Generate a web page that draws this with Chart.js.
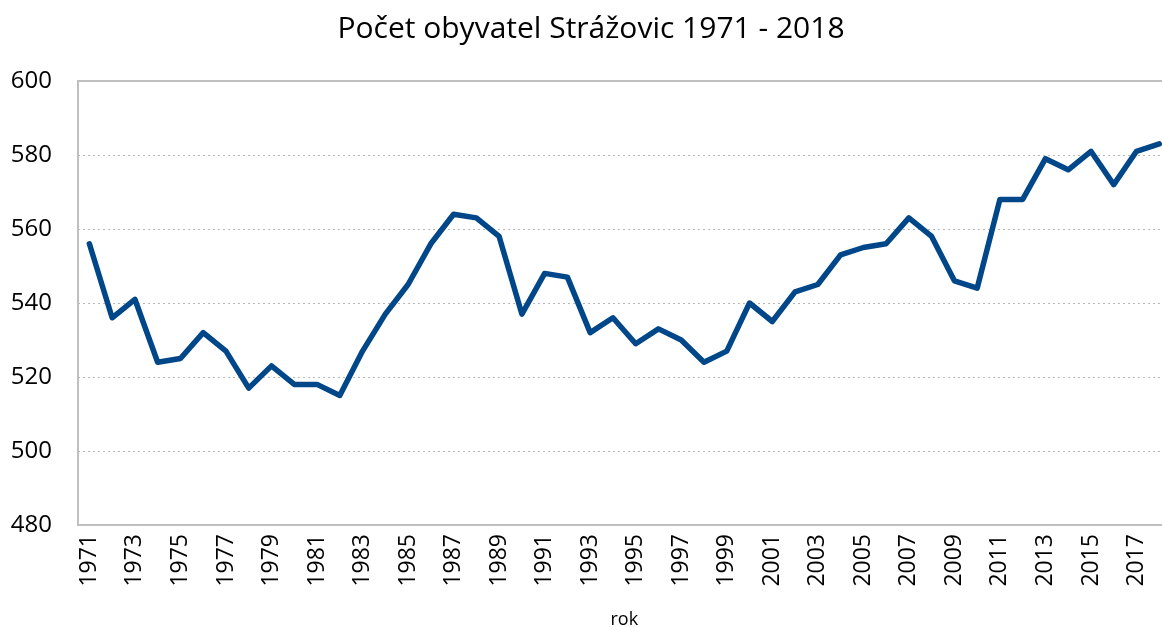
<!DOCTYPE html>
<html>
<head>
<meta charset="utf-8">
<script src="https://cdn.jsdelivr.net/npm/chart.js@4"></script>
<style>
    html, body { margin: 0; padding: 0; overflow: hidden; background: #fff; }
    #wrap { width: 1196px; height: 627px; }
</style>
</head>
<body>
<div id="wrap"><canvas id="popChart"></canvas></div>
<script>
// years 1971 - 2018
var years = [];
for (var y = 1971; y <= 2018; y++) years.push(String(y));

// population per year
var population = [
    556, 536, 541, 524, 525, 532, 527, 517, 523, 518,
    518, 515, 527, 537, 545, 556, 564, 563, 558, 537,
    548, 547, 532, 536, 529, 533, 530, 524, 527, 540,
    535, 543, 545, 553, 555, 556, 563, 558, 546, 544,
    568, 568, 579, 576, 581, 572, 581, 583
];

var yTicks = [480, 500, 520, 540, 560, 580, 600];

// plot area border (Excel style frame)
var frame = {
    id: 'frame',
    beforeDatasetsDraw: function (chart) {
        var a = chart.chartArea, c = chart.ctx;
        c.save();
        c.strokeStyle = '#bfbfbf';
        c.lineWidth = 2;
        c.strokeRect(a.left, a.top, a.right - a.left, a.bottom - a.top);
        c.restore();
    }
};

var ctx = document.getElementById('popChart').getContext('2d');
new Chart(ctx, {
    type: 'line',
    data: {
        labels: years,
        datasets: [{
            label: 'Počet obyvatel',
            data: population,
            borderColor: '#00478a',
            borderWidth: 5.5,
            borderJoinStyle: 'round',
            borderCapStyle: 'round',
            pointRadius: 0,
            tension: 0,
            fill: false
        }]
    },
    options: {
        responsive: true,
        maintainAspectRatio: false,
        animation: false,
        layout: { padding: { left: 0, right: 14, top: 0, bottom: 0 } },
        plugins: {
            legend: { display: false },
            tooltip: { enabled: false },
            title: {
                display: true,
                text: 'Počet obyvatel Strážovic 1971 - 2018',
                color: '#000',
                font: { family: 'Open Sans', size: 30, weight: 'normal' },
                padding: { top: 11, bottom: 34 }
            }
        },
        scales: {
            x: {
                offset: true,
                grid: { display: false, drawTicks: false },
                border: { display: false },
                ticks: {
                    autoSkip: false,
                    maxRotation: 90,
                    minRotation: 90,
                    padding: 9,
                    color: '#000',
                    font: { family: 'Open Sans', size: 23 },
                    callback: function (val, i) { return i % 2 === 0 ? years[i] : ''; }
                },
                title: {
                    display: true,
                    text: 'rok',
                    color: '#000',
                    font: { family: 'Open Sans', size: 18 },
                    padding: { top: 0, bottom: -4 }
                },
                afterFit: function (scale) { scale.height = 102; }
            },
            y: {
                min: 480,
                max: 600,
                afterBuildTicks: function (scale) {
                    scale.ticks = yTicks.map(function (v) { return { value: v }; });
                },
                grid: {
                    color: '#b8b8b8',
                    lineWidth: 1,
                    drawTicks: false
                },
                border: { display: false, dash: [2, 3] },
                ticks: {
                    padding: 26,
                    color: '#000',
                    font: { family: 'Open Sans', size: 24 }
                },
                afterFit: function (scale) { scale.width = 78; }
            }
        }
    },
    plugins: [frame]
});
</script>
</body>
</html>
